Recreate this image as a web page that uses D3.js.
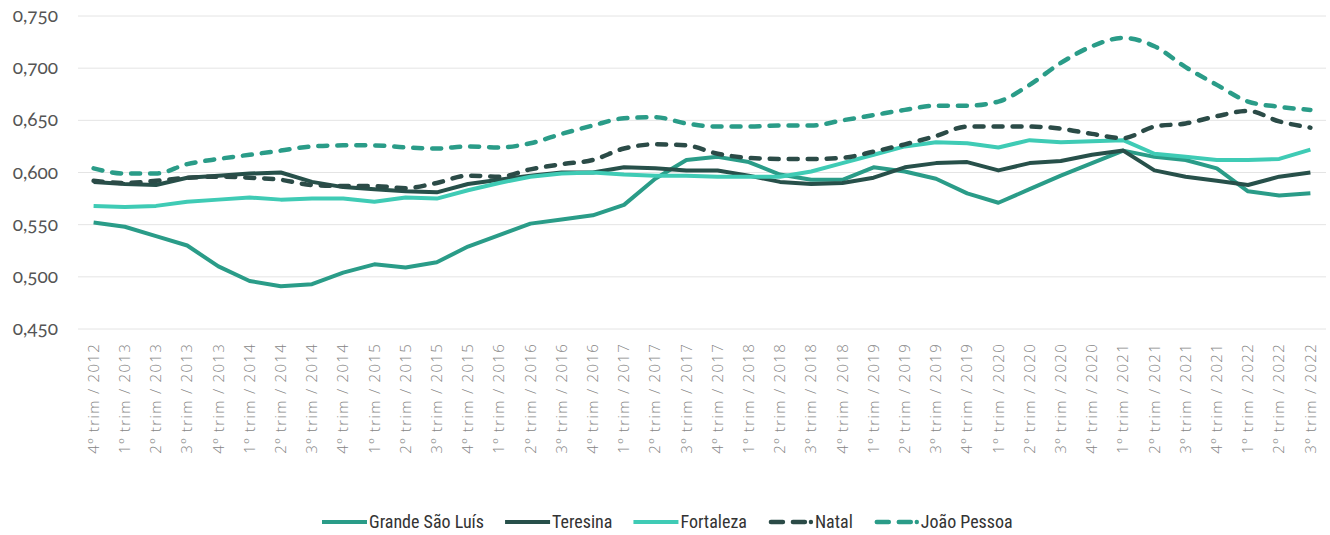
<!DOCTYPE html>
<html>
<head>
<meta charset="utf-8">
<script src="https://cdn.jsdelivr.net/npm/d3@7"></script>
<style>
  body { margin: 0; background: #fff; }
  svg { display: block; }
  .ylab text { font-family: Lato, "Open Sans", sans-serif; font-size: 19px; fill: #555; font-variant-numeric: oldstyle-nums; }
  .xlab text { font-family: "Open Sans", Lato, sans-serif; font-size: 15px; fill: #858585; font-weight: 300; letter-spacing: 1.3px; }
  .legend text { font-family: "Liberation Sans Narrow", "Roboto Condensed", "Noto Sans", sans-serif; font-size: 18px; fill: #333; }
</style>
</head>
<body>
<svg width="1330" height="535"></svg>
<script>
var svg = d3.select("svg"),
  width = +svg.attr("width"),
  height = +svg.attr("height");

var quarters = ["4º trim / 2012",
  "1º trim / 2013", "2º trim / 2013", "3º trim / 2013", "4º trim / 2013",
  "1º trim / 2014", "2º trim / 2014", "3º trim / 2014", "4º trim / 2014",
  "1º trim / 2015", "2º trim / 2015", "3º trim / 2015", "4º trim / 2015",
  "1º trim / 2016", "2º trim / 2016", "3º trim / 2016", "4º trim / 2016",
  "1º trim / 2017", "2º trim / 2017", "3º trim / 2017", "4º trim / 2017",
  "1º trim / 2018", "2º trim / 2018", "3º trim / 2018", "4º trim / 2018",
  "1º trim / 2019", "2º trim / 2019", "3º trim / 2019", "4º trim / 2019",
  "1º trim / 2020", "2º trim / 2020", "3º trim / 2020", "4º trim / 2020",
  "1º trim / 2021", "2º trim / 2021", "3º trim / 2021", "4º trim / 2021",
  "1º trim / 2022", "2º trim / 2022", "3º trim / 2022"];

var yTicks = [0.45, 0.50, 0.55, 0.60, 0.65, 0.70, 0.75];

var grandeSaoLuis = [0.552, 0.548, 0.539, 0.530, 0.510, 0.496, 0.491, 0.493, 0.504, 0.512,
  0.509, 0.514, 0.529, 0.540, 0.551, 0.555, 0.559, 0.569, 0.594, 0.612,
  0.615, 0.610, 0.598, 0.593, 0.593, 0.605, 0.601, 0.594, 0.580, 0.571,
  0.584, 0.597, 0.609, 0.621, 0.615, 0.612, 0.604, 0.582, 0.578, 0.580];

var teresina = [0.591, 0.589, 0.588, 0.595, 0.597, 0.599, 0.600, 0.591, 0.586, 0.584,
  0.582, 0.581, 0.589, 0.593, 0.597, 0.600, 0.600, 0.605, 0.604, 0.602,
  0.602, 0.597, 0.591, 0.589, 0.590, 0.595, 0.605, 0.609, 0.610, 0.602,
  0.609, 0.611, 0.617, 0.621, 0.602, 0.596, 0.592, 0.588, 0.596, 0.600];

var fortaleza = [0.568, 0.567, 0.568, 0.572, 0.574, 0.576, 0.574, 0.575, 0.575, 0.572,
  0.576, 0.575, 0.583, 0.590, 0.596, 0.599, 0.600, 0.598, 0.597, 0.597,
  0.596, 0.596, 0.596, 0.601, 0.609, 0.617, 0.625, 0.629, 0.628, 0.624,
  0.631, 0.629, 0.630, 0.631, 0.618, 0.615, 0.612, 0.612, 0.613, 0.622];

var natal = [0.592, 0.590, 0.592, 0.595, 0.596, 0.595, 0.593, 0.588, 0.587, 0.587,
  0.585, 0.590, 0.597, 0.596, 0.603, 0.608, 0.612, 0.623, 0.627, 0.626,
  0.618, 0.614, 0.613, 0.613, 0.614, 0.620, 0.627, 0.635, 0.644, 0.644,
  0.644, 0.642, 0.637, 0.633, 0.644, 0.647, 0.654, 0.659, 0.649, 0.643];

var joaoPessoa = [0.604, 0.599, 0.599, 0.608, 0.613, 0.617, 0.621, 0.625, 0.626, 0.626,
  0.624, 0.623, 0.625, 0.624, 0.628, 0.637, 0.645, 0.652, 0.653, 0.647,
  0.644, 0.644, 0.645, 0.645, 0.650, 0.655, 0.660, 0.664, 0.664, 0.668,
  0.684, 0.705, 0.721, 0.729, 0.721, 0.701, 0.684, 0.668, 0.663, 0.660];

var series = [
  { name: "Grande São Luís", values: grandeSaoLuis, color: "#2a9c88", dashed: false },
  { name: "Teresina", values: teresina, color: "#27504a", dashed: false },
  { name: "Fortaleza", values: fortaleza, color: "#3fcbb5", dashed: false },
  { name: "Natal", values: natal, color: "#2b4b47", dashed: true },
  { name: "João Pessoa", values: joaoPessoa, color: "#2a9c88", dashed: true }
];

var plotLeft = 78, plotRight = 1326, plotTop = 16, plotBottom = 329;

var x = d3.scaleBand().domain(quarters).range([plotLeft, plotRight]);
var y = d3.scaleLinear().domain([0.45, 0.75]).range([plotBottom, plotTop]);
var cx = function(i) { return x(quarters[i]) + x.bandwidth() / 2; };

// grid
svg.append("g")
  .selectAll("line")
  .data(yTicks)
  .enter().append("line")
  .attr("x1", plotLeft).attr("x2", plotRight)
  .attr("y1", d => y(d)).attr("y2", d => y(d))
  .attr("stroke", "#e4e4e4")
  .attr("stroke-width", 1);

// y labels
var fmt = d3.format(".3f");
svg.append("g")
  .attr("class", "ylab")
  .selectAll("text")
  .data(yTicks)
  .enter().append("text")
  .attr("x", 58)
  .attr("y", d => y(d))
  .attr("dy", "0.32em")
  .attr("text-anchor", "end")
  .text(d => fmt(d).replace(".", ","));

// x labels
svg.append("g")
  .attr("class", "xlab")
  .selectAll("text")
  .data(quarters)
  .enter().append("text")
  .attr("transform", (d, i) => "translate(" + cx(i) + ",343) rotate(-90)")
  .attr("dy", "0.35em")
  .attr("text-anchor", "end")
  .text(d => d);

// lines
var lineStraight = d3.line()
  .x((d, i) => cx(i))
  .y(d => y(d));
var lineSmooth = d3.line()
  .x((d, i) => cx(i))
  .y(d => y(d))
  .curve(d3.curveMonotoneX);

svg.append("g")
  .selectAll("path")
  .data(series)
  .enter().append("path")
  .attr("d", d => d.dashed ? lineSmooth(d.values) : lineStraight(d.values))
  .attr("fill", "none")
  .attr("stroke", d => d.color)
  .attr("stroke-width", d => d.dashed ? 4.5 : 4)
  .attr("stroke-linejoin", "round")
  .attr("stroke-linecap", d => d.dashed ? "round" : "butt")
  .attr("stroke-dasharray", d => d.dashed ? "9,10" : null);

// legend
var legend = svg.append("g").attr("class", "legend");
var lx = 322, ly = 522;
series.forEach(function(s) {
  var sw = 45;
  if (s.dashed) {
    legend.append("line")
      .attr("x1", lx + 3).attr("x2", lx + 40)
      .attr("y1", ly).attr("y2", ly)
      .attr("stroke", s.color)
      .attr("stroke-width", 4.5)
      .attr("stroke-linecap", "round")
      .attr("stroke-dasharray", "12,10");
    legend.append("circle")
      .attr("cx", lx + 43).attr("cy", ly).attr("r", 2.2)
      .attr("fill", s.color);
  } else {
    legend.append("line")
      .attr("x1", lx).attr("x2", lx + sw)
      .attr("y1", ly).attr("y2", ly)
      .attr("stroke", s.color)
      .attr("stroke-width", 4);
  }
  var t = legend.append("text")
    .attr("x", lx + sw + 2)
    .attr("y", ly)
    .attr("dy", "0.35em")
    .text(s.name);
  lx += sw + 2 + t.node().getComputedTextLength() + 21;
});
</script>
</body>
</html>
